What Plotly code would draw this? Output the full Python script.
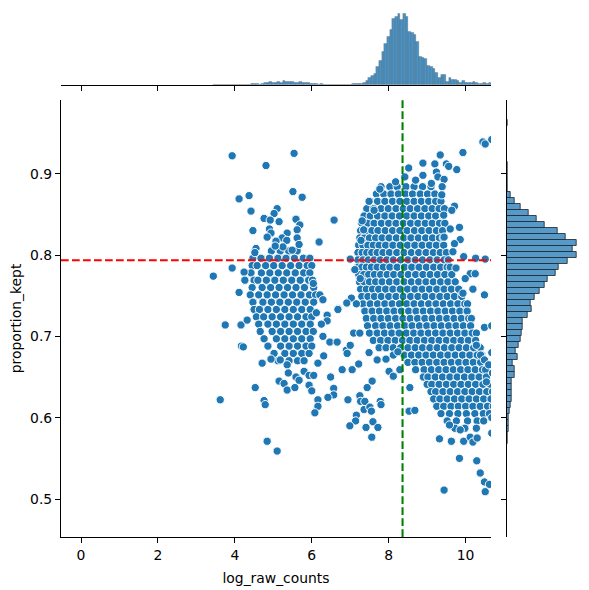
import plotly.graph_objects as go

# ---------------- data ----------------
# dense right cluster: rows of (proportion_kept, [log_raw_counts ...])
right_rows = [
    (0.884, [7.80, 8.03, 8.22, 8.45, 8.66, 8.88, 9.10]),
    (0.875, [7.68, 7.87, 8.06, 8.25, 8.44, 8.62, 8.82, 9.01, 9.20]),
    (0.866, [7.52, 7.71, 7.90, 8.10, 8.29, 8.47, 8.66, 8.85, 9.04, 9.22, 9.36]),
    (0.857, [7.43, 7.61, 7.80, 7.99, 8.19, 8.38, 8.56, 8.75, 8.94, 9.13, 9.31, 9.45]),
    (0.848, [7.36, 7.52, 7.71, 7.90, 8.09, 8.28, 8.47, 8.66, 8.85, 9.04, 9.22, 9.42]),
    (0.839, [7.30, 7.45, 7.62, 7.81, 8.00, 8.19, 8.38, 8.57, 8.76, 8.95, 9.13, 9.32, 9.46]),
    (0.830, [7.27, 7.40, 7.56, 7.72, 7.91, 8.10, 8.29, 8.48, 8.67, 8.86, 9.05, 9.24, 9.40]),
    (0.821, [7.25, 7.36, 7.50, 7.66, 7.83, 8.01, 8.20, 8.39, 8.58, 8.77, 8.96, 9.14, 9.32, 9.42]),
    (0.812, [7.22, 7.33, 7.46, 7.60, 7.75, 7.92, 8.11, 8.30, 8.49, 8.68, 8.87, 9.06, 9.24, 9.43]),
    (0.803, [7.20, 7.31, 7.43, 7.56, 7.70, 7.85, 8.02, 8.21, 8.40, 8.59, 8.78, 8.97, 9.16, 9.34, 9.50]),
    (0.794, [7.20, 7.33, 7.47, 7.62, 7.78, 7.95, 8.12, 8.31, 8.50, 8.69, 8.88, 9.07, 9.26, 9.44, 9.55]),
    (0.785, [7.20, 7.30, 7.42, 7.55, 7.70, 7.86, 8.03, 8.22, 8.41, 8.60, 8.79, 8.98, 9.17, 9.35, 9.52, 9.60]),
    (0.776, [7.22, 7.35, 7.48, 7.63, 7.79, 7.96, 8.13, 8.32, 8.51, 8.70, 8.89, 9.08, 9.27, 9.46, 9.64]),
    (0.767, [7.24, 7.36, 7.50, 7.66, 7.83, 8.02, 8.21, 8.40, 8.59, 8.78, 8.97, 9.16, 9.35, 9.54, 9.73]),
    (0.758, [7.27, 7.42, 7.58, 7.74, 7.92, 8.11, 8.30, 8.49, 8.68, 8.87, 9.06, 9.25, 9.44, 9.63, 9.82]),
    (0.749, [7.30, 7.46, 7.63, 7.81, 8.00, 8.19, 8.38, 8.57, 8.76, 8.95, 9.14, 9.33, 9.52, 9.71, 9.90]),
    (0.740, [7.33, 7.52, 7.71, 7.90, 8.09, 8.28, 8.47, 8.66, 8.85, 9.04, 9.23, 9.42, 9.61, 9.80, 9.98, 10.05]),
    (0.731, [7.38, 7.57, 7.76, 7.95, 8.14, 8.33, 8.52, 8.71, 8.90, 9.09, 9.28, 9.47, 9.66, 9.85, 10.04]),
    (0.722, [7.42, 7.61, 7.80, 7.99, 8.18, 8.37, 8.56, 8.75, 8.94, 9.13, 9.32, 9.51, 9.70, 9.89, 10.08, 10.15]),
    (0.713, [7.45, 7.66, 7.85, 8.04, 8.23, 8.42, 8.61, 8.80, 8.99, 9.18, 9.37, 9.56, 9.75, 9.94, 10.13]),
    (0.704, [7.50, 7.70, 7.89, 8.08, 8.27, 8.46, 8.65, 8.84, 9.03, 9.22, 9.41, 9.60, 9.79, 9.98, 10.17, 10.28]),
    (0.695, [7.60, 7.79, 7.98, 8.17, 8.36, 8.55, 8.74, 8.93, 9.12, 9.31, 9.50, 9.69, 9.88, 10.07, 10.26]),
    (0.686, [7.75, 7.93, 8.12, 8.31, 8.50, 8.69, 8.88, 9.07, 9.26, 9.45, 9.64, 9.83, 10.02, 10.21, 10.38]),
    (0.677, [8.12, 8.40, 8.59, 8.78, 8.97, 9.16, 9.35, 9.54, 9.73, 9.92, 10.11, 10.30, 10.42]),
    (0.668, [8.50, 8.68, 8.87, 9.06, 9.25, 9.44, 9.63, 9.82, 10.01, 10.20, 10.39]),
    (0.659, [8.70, 8.92, 9.11, 9.30, 9.49, 9.68, 9.87, 10.06, 10.25, 10.44, 10.52]),
    (0.650, [8.90, 9.02, 9.21, 9.40, 9.59, 9.78, 9.97, 10.16, 10.35, 10.54]),
    (0.641, [9.00, 9.12, 9.31, 9.50, 9.69, 9.88, 10.07, 10.26, 10.45, 10.64]),
    (0.632, [9.10, 9.22, 9.41, 9.60, 9.79, 9.98, 10.17, 10.36, 10.55, 10.70]),
    (0.623, [9.17, 9.33, 9.52, 9.71, 9.90, 10.09, 10.28, 10.47, 10.66]),
    (0.614, [9.25, 9.43, 9.62, 9.81, 10.00, 10.19, 10.38, 10.57, 10.72]),
    (0.605, [9.36, 9.58, 9.80, 10.02, 10.24, 10.46, 10.62]),
    (0.596, [9.52, 9.76, 10.05, 10.30, 10.47]),
    (0.587, [9.72, 9.98, 10.28]),
]

# dense left cluster rows
left_rows = [
    (0.805, [4.52, 4.95, 5.18, 5.40, 5.62]),
    (0.796, [4.47, 4.68, 4.90, 5.12, 5.33, 5.55, 5.78, 5.95]),
    (0.787, [4.45, 4.58, 4.80, 5.01, 5.23, 5.45, 5.67, 5.88, 6.00]),
    (0.778, [4.42, 4.69, 4.91, 5.13, 5.35, 5.57, 5.79, 5.95]),
    (0.769, [4.50, 4.60, 4.82, 5.04, 5.26, 5.48, 5.70, 5.92, 6.02]),
    (0.760, [4.45, 4.71, 4.93, 5.15, 5.37, 5.59, 5.81, 6.05]),
    (0.751, [4.40, 4.62, 4.84, 5.06, 5.28, 5.50, 5.72, 5.94, 6.10]),
    (0.742, [4.47, 4.73, 4.95, 5.17, 5.39, 5.61, 5.83, 6.05]),
    (0.733, [4.50, 4.64, 4.86, 5.08, 5.30, 5.52, 5.74, 5.96]),
    (0.724, [4.56, 4.75, 4.97, 5.19, 5.41, 5.63, 5.85, 6.00]),
    (0.715, [4.62, 4.86, 5.08, 5.30, 5.52, 5.74, 5.96]),
    (0.706, [4.66, 4.97, 5.19, 5.41, 5.63, 5.85, 6.04]),
    (0.697, [4.76, 5.08, 5.30, 5.52, 5.74, 5.96]),
    (0.688, [4.86, 5.19, 5.41, 5.63, 5.85, 6.00]),
    (0.679, [5.02, 5.30, 5.52, 5.74, 5.93]),
    (0.670, [5.12, 5.41, 5.63, 5.80]),
]

# scattered individual points (log_raw_counts, proportion_kept)
sparse_x = [
    3.93, 5.54, 4.81, 4.37, 4.11, 5.51, 5.75, 4.42, 5.10, 5.02, 4.76, 4.92, 5.15, 5.59, 5.69,
    4.47, 4.90, 4.94, 4.84, 5.36, 5.23, 5.62, 5.62, 5.07, 5.35, 5.25, 5.05, 5.67, 5.49, 4.55,
    4.52, 3.93, 3.44, 4.24, 4.26, 4.11, 3.75, 4.16, 4.32, 4.17, 4.22, 4.71, 4.94, 5.18, 5.36,
    5.39, 5.59, 5.80, 5.93, 5.15, 5.28, 5.36, 5.56, 5.67, 5.93, 6.00, 4.53, 3.62, 4.76, 4.79,
    4.84, 5.10, 6.08,
    6.58, 6.19, 7.00, 7.12, 7.26, 6.04, 6.21, 6.29, 6.69, 7.03, 6.91, 7.16, 6.68, 6.40, 6.40,
    6.25, 6.12, 6.29, 6.47, 6.66, 6.16, 6.31, 6.05, 6.49, 6.79, 7.05, 7.22, 6.90, 6.92, 7.00,
    7.09, 7.25, 7.49, 7.70, 7.93, 8.01, 8.12, 8.29, 8.24, 7.57, 7.44, 6.57, 6.57, 6.42, 6.16,
    6.16, 6.08, 6.94, 7.25, 7.27, 7.38, 7.36, 7.51, 7.55, 7.78, 7.80, 7.16, 7.14, 6.99, 7.41,
    7.59, 7.72, 7.56, 8.53, 8.55, 8.68,
    7.49, 7.77, 8.18, 7.31, 7.62, 7.28, 7.35,
    10.45, 10.51, 10.68, 9.93, 9.34, 8.89, 8.52, 9.20, 9.50, 9.56, 9.77, 9.24, 9.28, 9.44, 8.89,
    8.42, 8.70, 9.11, 9.39, 9.38, 9.71, 9.64, 9.43,
    9.84, 9.60, 9.44, 9.86, 9.71, 9.67, 9.95, 10.26, 10.51, 9.75, 10.12, 10.25, 9.99, 10.19, 10.49,
    9.93, 10.49, 10.68, 10.39, 10.49, 10.68, 10.54, 10.70, 10.28, 10.60,
    9.32, 9.63, 9.95, 10.12, 10.19, 10.30, 9.86, 9.58, 9.84, 10.29, 10.38, 10.49, 10.62, 10.51,
    9.44, 10.68, 10.68,
]
sparse_y = [
    0.922, 0.925, 0.910, 0.873, 0.869, 0.878, 0.871, 0.854, 0.857, 0.851, 0.845, 0.843, 0.841, 0.844, 0.837,
    0.830, 0.832, 0.827, 0.822, 0.827, 0.821, 0.831, 0.821, 0.817, 0.818, 0.810, 0.811, 0.813, 0.806, 0.808,
    0.803, 0.784, 0.774, 0.779, 0.769, 0.754, 0.714, 0.714, 0.720, 0.688, 0.687, 0.667, 0.672, 0.671, 0.665,
    0.655, 0.650, 0.657, 0.652, 0.645, 0.642, 0.634, 0.637, 0.646, 0.640, 0.633, 0.637, 0.622, 0.621, 0.616,
    0.571, 0.559, 0.607,
    0.843, 0.816, 0.795, 0.782, 0.771, 0.765, 0.751, 0.745, 0.734, 0.747, 0.741, 0.740, 0.733, 0.726, 0.719,
    0.715, 0.729, 0.700, 0.693, 0.693, 0.667, 0.676, 0.652, 0.650, 0.659, 0.659, 0.666, 0.683, 0.679, 0.689,
    0.704, 0.704, 0.680, 0.671, 0.672, 0.657, 0.651, 0.659, 0.681, 0.645, 0.637, 0.636, 0.628, 0.625, 0.622,
    0.614, 0.606, 0.622, 0.627, 0.620, 0.620, 0.610, 0.613, 0.608, 0.620, 0.616, 0.603, 0.596, 0.590, 0.588,
    0.595, 0.588, 0.576, 0.608, 0.637, 0.609,
    0.866, 0.881, 0.890, 0.842, 0.855, 0.818, 0.831,
    0.939, 0.9365, 0.942, 0.926, 0.923, 0.913, 0.907, 0.912, 0.912, 0.909, 0.905, 0.902, 0.896, 0.893, 0.898,
    0.896, 0.892, 0.888, 0.884, 0.874, 0.860, 0.855, 0.849,
    0.834, 0.832, 0.822, 0.819, 0.814, 0.804, 0.798, 0.796, 0.795, 0.784, 0.777, 0.777, 0.771, 0.758, 0.751,
    0.753, 0.711, 0.713, 0.677, 0.671, 0.680, 0.644, 0.655, 0.689, 0.665,
    0.574, 0.571, 0.571, 0.576, 0.570, 0.575, 0.585, 0.591, 0.550, 0.547, 0.532, 0.521, 0.518, 0.509,
    0.511, 0.581, 0.600,
]

# marginal histograms (counts)
top_bin_start = 3.44
top_bin_width = 0.0695
top_counts = [0] * 14 + [
    1, 1, 1, 0, 1, 2, 3, 4, 2, 3, 4, 2, 5, 4, 4, 4, 3, 3, 4, 2, 3, 3, 1, 1, 1, 0, 1,
] + [0] * 11 + [
    1, 1, 1, 1, 3, 5, 8, 10, 12, 20, 27, 37, 45, 53, 61, 73, 75, 78, 72, 78, 75, 58, 57, 55,
    48, 31, 30, 29, 21, 20, 18, 14, 8, 11, 11, 4, 8, 6, 6, 5, 3, 5, 3, 2, 3, 4, 2, 1, 1, 2, 1, 2,
]
right_bin_top = 0.9665
right_bin_width = 0.00738
right_counts = [1, 0, 0, 0, 0, 0, 0, 1, 1, 1, 1, 1,
                4, 8, 14, 22, 30, 38, 51, 59, 70, 66, 70, 61, 52, 49, 41, 38, 33, 28, 24, 25,
                21, 16, 16, 15, 14, 12, 9, 11, 6, 8, 8, 5, 5, 5, 5, 4, 3, 2, 2, 2, 1, 1]

x_ticks = [0, 2, 4, 6, 8, 10]
y_ticks = [0.5, 0.6, 0.7, 0.8, 0.9]
y_ticktext = ["0.5", "0.6", "0.7", "0.8", "0.9"]
h_threshold = 0.7935   # red dashed line (proportion_kept)
v_threshold = 8.36     # green dashed line (log_raw_counts)

# ---------------- build ----------------
pts_x, pts_y = [], []
for yv, xs in left_rows + right_rows:
    for xv in xs:
        pts_x.append(xv)
        pts_y.append(yv)
pts_x += sparse_x
pts_y += sparse_y

top_centers = [top_bin_start + top_bin_width * (i + 0.5) for i in range(len(top_counts))]
right_centers = [right_bin_top - right_bin_width * (i + 0.5) for i in range(len(right_counts))]

W, H = 589, 590
X_RANGE = [-0.52, 10.66]
Y_RANGE = [0.4533, 0.9906]
main_xd = [61 / W, 491 / W]
main_yd = [(H - 537) / H, (H - 100) / H]
top_yd = [(H - 85) / H, (H - 9.7) / H]
right_xd = [506.7 / W, 582 / W]
FONT = dict(family="DejaVu Sans", size=13.9, color="black")

fig = go.Figure()
fig.add_trace(go.Scatter(
    x=pts_x, y=pts_y, mode="markers",
    marker=dict(size=8.3, color="#1f77b4", line=dict(color="white", width=1.0)),
    xaxis="x", yaxis="y", hoverinfo="skip"))

fig.add_trace(go.Bar(
    x=top_centers, y=top_counts, width=[top_bin_width] * len(top_counts),
    marker=dict(color="rgba(31,119,180,0.8)", line=dict(color="rgba(50,60,70,0.55)", width=0.4)),
    xaxis="x2", yaxis="y2"))

fig.add_trace(go.Bar(
    y=right_centers, x=right_counts, orientation="h", width=[right_bin_width] * len(right_counts),
    marker=dict(color="rgba(31,119,180,0.75)", line=dict(color="rgba(35,45,55,0.85)", width=1)),
    xaxis="x3", yaxis="y3"))

line_style = dict(width=2.08, dash="7.7px,3.3px")
fig.add_shape(type="line", xref="x domain", yref="y", x0=0, x1=1, y0=h_threshold, y1=h_threshold,
              line=dict(color="red", **line_style), layer="above")
fig.add_shape(type="line", xref="x", yref="y domain", x0=v_threshold, x1=v_threshold, y0=0, y1=1,
              line=dict(color="green", **line_style), layer="above")

axis_common = dict(showgrid=False, zeroline=False, showline=True, linecolor="black", linewidth=1.1,
                   ticks="outside", ticklen=5, tickwidth=1.1, tickcolor="black", tickfont=FONT)

fig.update_layout(
    width=W, height=H, margin=dict(l=0, r=0, t=0, b=0),
    paper_bgcolor="white", plot_bgcolor="white", showlegend=False,
    font=FONT,
    bargap=0,
    xaxis=dict(domain=main_xd, range=X_RANGE, anchor="y", tickvals=x_ticks,
               title=dict(text="log_raw_counts", standoff=11, font=FONT), **axis_common),
    yaxis=dict(domain=main_yd, range=Y_RANGE, anchor="x", tickvals=y_ticks, ticktext=y_ticktext,
               title=dict(text="proportion_kept", standoff=5, font=FONT), **axis_common),
    xaxis2=dict(domain=main_xd, range=X_RANGE, anchor="y2", tickvals=x_ticks,
                showticklabels=False, **axis_common),
    yaxis2=dict(domain=top_yd, range=[0, 82.7], anchor="x2", visible=False),
    xaxis3=dict(domain=right_xd, range=[0, 75.3], anchor="y3", visible=False),
    yaxis3=dict(domain=main_yd, range=Y_RANGE, anchor="x3", tickvals=y_ticks,
                showticklabels=False, **axis_common),
)

fig.write_html("out.html")
